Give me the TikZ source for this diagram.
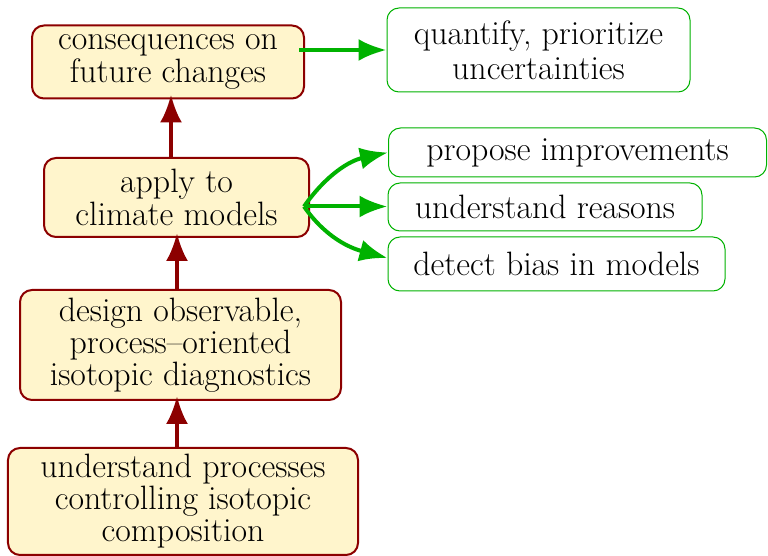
\documentclass[tikz,border=0pt]{standalone}
\usetikzlibrary{arrows.meta}
\definecolor{boxfill}{RGB}{255,245,204}
\definecolor{boxred}{RGB}{140,0,0}
\definecolor{goalgreen}{RGB}{0,178,0}
\begin{document}
\begin{tikzpicture}[
        x=0.5pt, y=-0.5pt,                  % One unit per pixel, y downwards
        >={Latex[length=14pt,width=11pt]},  % Arrow style
        every node/.style={font=\fontsize{16.9}{15}\selectfont, align=center, inner sep=0pt},
        stepbox/.style={draw=boxred, line width=1pt, fill=boxfill, rounded corners=6pt},
        goalbox/.style={draw=goalgreen, line width=0.5pt, fill=white, rounded corners=6pt},
        uparrow/.style={->, draw=boxred, line width=2pt, shorten >=-2.5pt},
        sidearrow/.style={->, draw=goalgreen, line width=2pt}
    ]
    \useasboundingbox (0,0) rectangle (768,556);

    % Chain of steps on the left
    \node[stepbox, minimum width=136pt, minimum height=36.5pt] (consequences) at (168,62) {consequences on\\future changes};
    \node[stepbox, minimum width=132.5pt, minimum height=39.5pt] (apply) at (176.5,197.5) {apply to\\climate models};
    \node[stepbox, minimum width=160.5pt, minimum height=55pt] (design) at (180.5,345) {design observable,\\process--oriented\\isotopic diagnostics};
    \node[stepbox, minimum width=175pt, minimum height=53.5pt, font=\fontsize{16.9}{16}\selectfont] (processes) at (183,501.5) {understand processes\\controlling isotopic\\composition};

    % Goals on the right
    \node[goalbox, minimum width=151.5pt, minimum height=42pt, font=\fontsize{16.9}{17.5}\selectfont] (quantify) at (538.5,50) {quantify, prioritize\\uncertainties};
    \node[goalbox, minimum width=189pt, minimum height=24.5pt] (improve) at (577.5,152.5) {propose improvements};
    \node[goalbox, minimum width=157pt, minimum height=24pt] (reasons) at (545,207) {understand reasons};
    \node[goalbox, minimum width=168.5pt, minimum height=27pt] (bias) at (556.5,264) {detect bias in models};

    % Arrows up the chain
    \draw[uparrow] ([xshift=-3pt]processes.north) -- ([xshift=-3pt]processes.north |- design.south);
    \draw[uparrow] ([xshift=-1.75pt]design.north) -- ([xshift=-1.75pt]design.north |- apply.south);
    \draw[uparrow] ([xshift=-2.75pt]apply.north) -- ([xshift=-2.75pt]apply.north |- consequences.south);

    % Arrows out to the goals
    \draw[sidearrow] ([xshift=-3pt,yshift=6pt]consequences.east) -- (quantify.west);
    \coordinate (fork) at ([xshift=-3pt,yshift=-4.5pt]apply.east);
    \draw[sidearrow] (fork) to[out=55, in=192] (improve.west);
    \draw[sidearrow] (fork) -- (fork -| reasons.west);
    \draw[sidearrow] (fork) to[out=-55, in=165] ([yshift=3pt]bias.west);

\end{tikzpicture}
\end{document}
